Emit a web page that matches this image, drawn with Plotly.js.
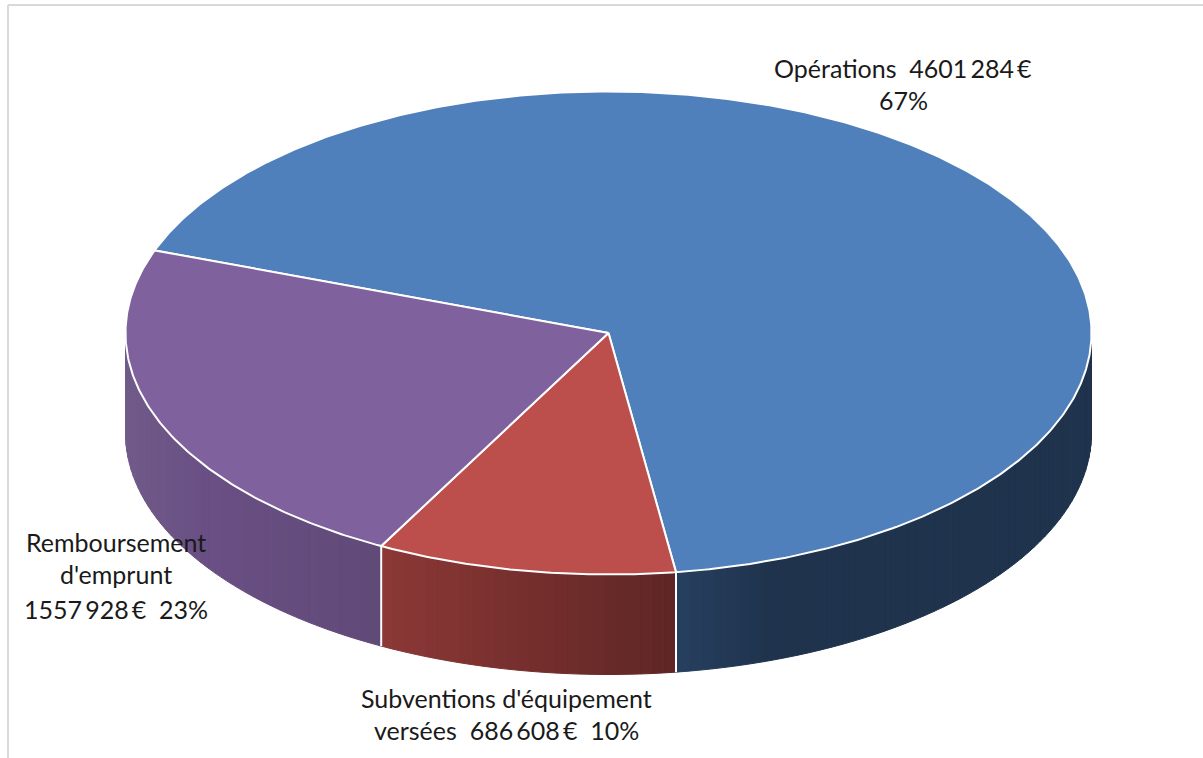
<!DOCTYPE html>
<html>
<head>
<meta charset="utf-8">
<script src="https://cdn.plot.ly/plotly-3.0.1.min.js"></script>
<style>html,body{margin:0;padding:0;background:#fff}#c{width:1203px;height:758px}</style>
</head>
<body>
<div id="c"></div>
<script>
// Data
const categories = ["Opérations", "Subventions d'équipement versées", "Remboursement d'emprunt"];
const values = [4601284, 686608, 1557928];
const topColors = ["#4f80bb", "#bc4f4c", "#7f619d"];
// Side shading of each slice, left to right across its visible part
const sideStops = [
  [[0, "#26405f"], [0.22, "#1f334d"], [1, "#1f334d"]],
  [[0, "#8c3836"], [1, "#5e2625"]],
  [[0, "#705b89"], [0.3, "#6a4f84"], [1, "#604a78"]]
];
const labelLines = [
  ["Opérations  4601\u2009284\u2009€", "67%"],
  ["Subventions d'équipement", "versées  686\u2009608\u2009€  10%"],
  ["Remboursement", "d'emprunt", "1557\u2009928\u2009€  23%"]
];
const labelX = [903, 506, 116];
const labelY = [[68, 100], [698, 730], [542, 574, 609]];

// Projection of the pie (pixel space of the axes)
const cx = 608.5, cy = 333, rx = 483, ry = 241.5, depth = 100, startAngle = 290;
const total = values.reduce((a, b) => a + b, 0);
const px = a => cx + rx * Math.sin(a * Math.PI / 180);
const py = a => cy - ry * Math.cos(a * Math.PI / 180);

function hex(c) { return [1, 3, 5].map(i => parseInt(c.substr(i, 2), 16)); }
function shade(stops, t) {
  for (let i = 1; i < stops.length; i++) {
    if (t <= stops[i][0]) {
      const f = (t - stops[i - 1][0]) / (stops[i][0] - stops[i - 1][0]);
      const a = hex(stops[i - 1][1]), b = hex(stops[i][1]);
      return "rgb(" + a.map((v, k) => Math.round(v + (b[k] - v) * f)).join(",") + ")";
    }
  }
  return stops[stops.length - 1][1];
}

const sideTraces = [], topTraces = [], seamTraces = [];
let a0 = startAngle;
values.forEach((v, i) => {
  const a1 = a0 + v / total * 360;
  // visible side: angles 90..270 (clockwise from the top)
  [0, -360].forEach(shift => {
    const lo = Math.max(a0 + shift, 90), hi = Math.min(a1 + shift, 270);
    if (hi <= lo) return;
    const xl = Math.min(px(lo), px(hi)), xr = Math.max(px(lo), px(hi));
    const n = Math.ceil((hi - lo) / 1.5);
    for (let k = 0; k < n; k++) {
      const s = lo + (hi - lo) * k / n, e = lo + (hi - lo) * (k + 1) / n;
      const xs = [], ys = [];
      for (let j = 0; j <= 3; j++) { const a = s + (e - s) * j / 3; xs.push(px(a)); ys.push(py(a)); }
      for (let j = 3; j >= 0; j--) { const a = s + (e - s) * j / 3; xs.push(px(a)); ys.push(py(a) + depth); }
      xs.push(xs[0]); ys.push(ys[0]);
      const col = shade(sideStops[i], (px((s + e) / 2) - xl) / (xr - xl));
      sideTraces.push({ type: "scatter", mode: "lines", x: xs, y: ys, fill: "toself", fillcolor: col,
        line: { color: col, width: 1 }, hoverinfo: "skip", showlegend: false });
    }
  });
  // top face
  const tx = [cx], ty = [cy];
  const n = Math.ceil((a1 - a0) / 0.5);
  for (let k = 0; k <= n; k++) { const a = a0 + (a1 - a0) * k / n; tx.push(px(a)); ty.push(py(a)); }
  tx.push(cx); ty.push(cy);
  topTraces.push({ type: "scatter", mode: "lines", name: categories[i], x: tx, y: ty, fill: "toself",
    fillcolor: topColors[i], line: { color: "#ffffff", width: 2 }, hoverinfo: "name", showlegend: false });
  // white seam down the side at the slice's end, where it faces the viewer
  const e = ((a1 % 360) + 360) % 360;
  if (e > 90 && e < 270) {
    seamTraces.push({ type: "scatter", mode: "lines", x: [px(e), px(e)], y: [py(e), py(e) + depth],
      line: { color: "#ffffff", width: 2 }, hoverinfo: "skip", showlegend: false });
  }
  a0 = a1;
});

const annotations = [];
labelLines.forEach((lines, i) => lines.forEach((t, j) => annotations.push({
  x: labelX[i], y: labelY[i][j], xref: "x", yref: "y", text: t, showarrow: false,
  xanchor: "center", yanchor: "middle", font: { family: "Lato, 'Open Sans', sans-serif", size: 25, color: "#1a1a1a" }
})));

const layout = {
  width: 1203, height: 758, margin: { l: 0, r: 0, t: 0, b: 0 },
  paper_bgcolor: "#ffffff", plot_bgcolor: "#ffffff", showlegend: false,
  xaxis: { range: [0, 1203], visible: false, fixedrange: true },
  yaxis: { range: [758, 0], visible: false, fixedrange: true },
  annotations,
  shapes: [
    { type: "line", xref: "paper", yref: "paper", x0: 8 / 1203, x1: 1, y0: 1 - 5 / 758, y1: 1 - 5 / 758, line: { color: "#d9d9d9", width: 2 } },
    { type: "line", xref: "paper", yref: "paper", x0: 8 / 1203, x1: 8 / 1203, y0: 1 - 5 / 758, y1: 0, line: { color: "#d9d9d9", width: 2 } }
  ]
};
Plotly.newPlot("c", sideTraces.concat(seamTraces, topTraces), layout, { displayModeBar: false, staticPlot: true });
</script>
</body>
</html>
